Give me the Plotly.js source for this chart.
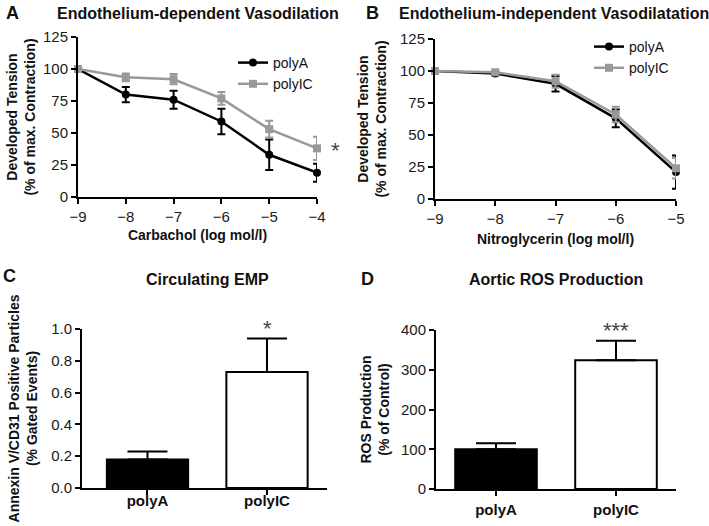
<!DOCTYPE html>
<html>
<head>
<meta charset="utf-8">
<script src="https://cdn.plot.ly/plotly-3.0.1.min.js"></script>
<style>html,body{margin:0;padding:0;background:#fff;}#chart{width:709px;height:526px;}</style>
</head>
<body>
<div id="chart"></div>
<script>
// ---- data ----
const groups = ['polyA', 'polyIC'];

const carbacholDose = [-9, -8, -7, -6, -5, -4];
const carbacholPolyA = [100, 80, 76, 59, 33, 19];
const carbacholPolyAErr = [0, 6, 7, 10, 12, 7];
const carbacholPolyIC = [100, 93.5, 92, 77, 53, 38];
const carbacholPolyICErr = [0, 3, 4, 5, 6.5, 9];

const ntgDose = [-9, -8, -7, -6, -5];
const ntgPolyA = [100, 98, 90, 63, 21];
const ntgPolyAErr = [0, 1.5, 6, 7, 13];
const ntgPolyIC = [100, 99, 92, 66, 24];
const ntgPolyICErr = [0, 1, 5, 6, 8];

const empMean = [0.18, 0.73];
const empErr = [0.05, 0.21];

const rosMean = [100, 324];
const rosErr = [15, 49];

const xTickA = [-9, -8, -7, -6, -5, -4];
const xTickB = [-9, -8, -7, -6, -5];
const yTickCurve = [0, 25, 50, 75, 100, 125];
const yTickEmp = [0, 0.2, 0.4, 0.6, 0.8, 1.0];
const yTickRos = [0, 100, 200, 300, 400];

// ---- style ----
const FONT = 'Liberation Sans, Arial, Helvetica, sans-serif';
const BLACK = '#000000';
const GRAY = '#999999';
const W = 709, H = 526;
const px = v => v / W;
const py = v => 1 - v / H;

function lineTrace(x, y, err, name, color, symbol, xa, ya, legend, showlegend) {
  return {
    type: 'scatter', mode: 'lines+markers', x: x, y: y, name: name,
    xaxis: xa, yaxis: ya, legend: legend, showlegend: showlegend,
    line: {color: color, width: 2.5},
    marker: {color: color, symbol: symbol, size: 8},
    error_y: {type: 'data', array: err, visible: true, color: color, thickness: 2, width: 4},
    cliponaxis: false
  };
}

const data = [
  lineTrace(carbacholDose, carbacholPolyA, carbacholPolyAErr, 'polyA', BLACK, 'circle', 'x', 'y', 'legend', true),
  lineTrace(carbacholDose, carbacholPolyIC, carbacholPolyICErr, 'polyIC', GRAY, 'square', 'x', 'y', 'legend', true),
  lineTrace(ntgDose, ntgPolyA, ntgPolyAErr, 'polyA', BLACK, 'circle', 'x2', 'y2', 'legend2', true),
  lineTrace(ntgDose, ntgPolyIC, ntgPolyICErr, 'polyIC', GRAY, 'square', 'x2', 'y2', 'legend2', true),
  {
    type: 'bar', x: groups, y: empMean, xaxis: 'x3', yaxis: 'y3', showlegend: false,
    width: 0.68,
    marker: {color: [BLACK, '#ffffff'], line: {color: BLACK, width: 2}},
    error_y: {type: 'data', symmetric: false, array: empErr, arrayminus: [0, 0], color: BLACK, thickness: 2, width: 20},
    cliponaxis: false
  },
  {
    type: 'bar', x: groups, y: rosMean, xaxis: 'x4', yaxis: 'y4', showlegend: false,
    width: 0.68,
    marker: {color: [BLACK, '#ffffff'], line: {color: BLACK, width: 2}},
    error_y: {type: 'data', symmetric: false, array: rosErr, arrayminus: [0, 0], color: BLACK, thickness: 2, width: 20},
    cliponaxis: false
  }
];

const tickFont = {family: FONT, size: 15, color: '#1a1a1a'};
const titleFont = {family: FONT, size: 14, color: '#111', weight: 'bold'};
const catFont = {family: FONT, size: 15, color: '#111', weight: 'bold'};

function baseAxis(extra) {
  return Object.assign({
    showline: true, linecolor: BLACK, linewidth: 2,
    ticks: 'outside', ticklen: 5, tickwidth: 2, tickcolor: BLACK,
    showgrid: false, zeroline: false, fixedrange: true,
    tickfont: tickFont, automargin: false
  }, extra);
}

function ann(text, x, y, size, extra) {
  return Object.assign({
    text: text, xref: 'paper', yref: 'paper', x: px(x), y: py(y),
    xanchor: 'center', yanchor: 'middle', showarrow: false,
    font: {family: FONT, size: size, color: '#111', weight: 'bold'}
  }, extra || {});
}

const layout = {
  width: W, height: H,
  margin: {l: 0, r: 0, t: 0, b: 0},
  paper_bgcolor: '#ffffff', plot_bgcolor: '#ffffff',
  font: {family: FONT, color: '#111'},
  xaxis: baseAxis({
    domain: [px(78), px(317)], anchor: 'y', range: [-9, -4],
    tickvals: xTickA, ticktext: xTickA.map(v => '\u2212' + Math.abs(v)),
    title: {text: 'Carbachol (log mol/l)', font: titleFont, standoff: 6}
  }),
  yaxis: baseAxis({
    domain: [py(197), py(37)], anchor: 'x', range: [0, 125],
    tickvals: yTickCurve,
    title: {text: 'Developed Tension<br>(% of max. Contraction)', font: titleFont, standoff: 4}
  }),
  xaxis2: baseAxis({
    domain: [px(435), px(676)], anchor: 'y2', range: [-9, -5],
    tickvals: xTickB, ticktext: xTickB.map(v => '\u2212' + Math.abs(v)),
    title: {text: 'Nitroglycerin (log mol/l)', font: titleFont, standoff: 8}
  }),
  yaxis2: baseAxis({
    domain: [py(199), py(39)], anchor: 'x2', range: [0, 125],
    tickvals: yTickCurve,
    title: {text: 'Developed Tension<br>(% of max. Contraction)', font: titleFont, standoff: 10}
  }),
  xaxis3: baseAxis({
    domain: [px(82), px(327)], anchor: 'y3', type: 'category', range: [-0.548, 1.502],
    tickfont: catFont, ticklabelstandoff: -7
  }),
  yaxis3: baseAxis({
    domain: [py(488), py(329)], anchor: 'x3', range: [0, 1.0],
    tickvals: yTickEmp, ticktext: yTickEmp.map(v => v.toFixed(1)),
    title: {text: 'Annexin V/CD31 Positive Particles<br>(% Gated Events)', font: titleFont, standoff: 10}
  }),
  xaxis4: baseAxis({
    domain: [px(436), px(676)], anchor: 'y4', type: 'category', range: [-0.5, 1.5],
    tickfont: catFont, ticklabelstandoff: 1
  }),
  yaxis4: baseAxis({
    domain: [py(489), py(330)], anchor: 'x4', range: [0, 400],
    tickvals: yTickRos,
    title: {text: 'ROS Production<br>(% of Control)', font: titleFont, standoff: 8}
  }),
  legend: {
    x: px(233), y: py(47), xanchor: 'left', yanchor: 'top',
    bgcolor: 'rgba(0,0,0,0)', font: {family: FONT, size: 14, color: '#111'},
    tracegroupgap: 0, itemclick: false, itemdoubleclick: false
  },
  legend2: {
    x: px(589), y: py(31), xanchor: 'left', yanchor: 'top',
    bgcolor: 'rgba(0,0,0,0)', font: {family: FONT, size: 14, color: '#111'},
    tracegroupgap: 0, itemclick: false, itemdoubleclick: false
  },
  annotations: [
    ann('A', 12, 13, 18),
    ann('B', 372, 13, 18),
    ann('C', 9, 276, 18),
    ann('D', 367, 279, 18),
    ann('Endothelium-dependent Vasodilation', 198, 13, 16),
    ann('Endothelium-independent Vasodilatation', 554, 13, 16),
    ann('Circulating EMP', 207, 279, 16),
    ann('Aortic ROS Production', 556, 279, 16),
    {text: '*', xref: 'x', yref: 'y', x: -4, y: carbacholPolyIC[5], xshift: 18, yshift: -2,
     showarrow: false, font: {family: FONT, size: 22, color: '#444'}},
    {text: '*', xref: 'x3', yref: 'y3', x: groups[1], y: empMean[1] + empErr[1], yshift: 10,
     showarrow: false, font: {family: FONT, size: 22, color: '#444'}},
    {text: '***', xref: 'x4', yref: 'y4', x: groups[1], y: rosMean[1] + rosErr[1], yshift: 10,
     showarrow: false, font: {family: FONT, size: 22, color: '#444'}}
  ]
};

Plotly.newPlot('chart', data, layout, {displayModeBar: false, staticPlot: true});
</script>
</body>
</html>
